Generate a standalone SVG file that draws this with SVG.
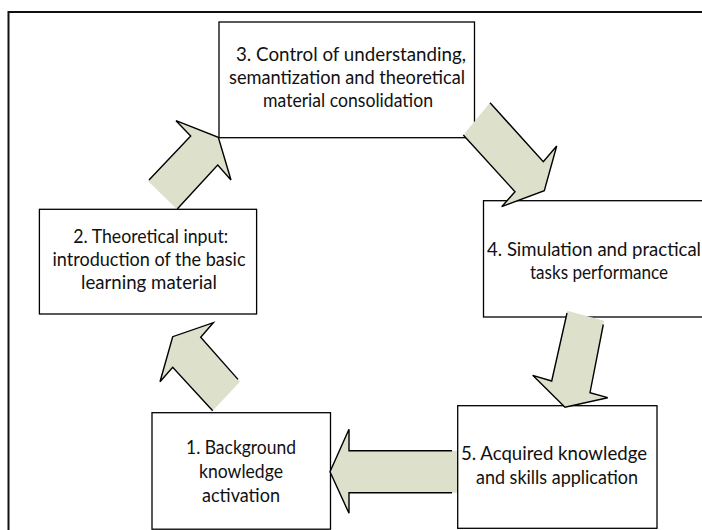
<svg xmlns="http://www.w3.org/2000/svg" width="702" height="530" viewBox="0 0 702 530">
  <style>
    .frame { stroke: #111; stroke-width: 2; fill: none; }
    .box { fill: #fff; stroke: #000; stroke-width: 1.3; }
    .lbl { font-family: Lato, "Open Sans", "Liberation Sans", sans-serif; font-size: 18.5px; fill: #111; text-anchor: middle; }
    .arrow-fill { fill: #dde0cb; stroke: none; }
    .arrow-edge { fill: none; stroke: #000; stroke-width: 1.4; stroke-linejoin: miter; }
  </style>
  <rect width="702" height="530" fill="#fff"/>

  <!-- outer frame (top and left edges) -->
  <path class="frame" d="M8.5,530 V12 H702"/>

  <!-- step boxes -->
  <g id="node-3">
    <rect class="box" x="219" y="22" width="255.5" height="115.7"/>
    <text class="lbl" x="351" y="61" textLength="230" lengthAdjust="spacingAndGlyphs">3. Control of understanding,</text>
    <text class="lbl" x="347" y="84" textLength="236" lengthAdjust="spacingAndGlyphs">semantization and theoretical</text>
    <text class="lbl" x="348" y="107" textLength="170" lengthAdjust="spacingAndGlyphs">material consolidation</text>
  </g>
  <g id="node-2">
    <rect class="box" x="39.4" y="209.3" width="217.2" height="104.7"/>
    <text class="lbl" x="150.7" y="242.5" textLength="155" lengthAdjust="spacingAndGlyphs">2. Theoretical input:</text>
    <text class="lbl" x="149" y="265.5" textLength="193" lengthAdjust="spacingAndGlyphs">introduction of the basic</text>
    <text class="lbl" x="149" y="288.5" textLength="136" lengthAdjust="spacingAndGlyphs">learning material</text>
  </g>
  <g id="node-4">
    <rect class="box" x="483.5" y="200.7" width="240" height="116.3"/>
    <text class="lbl" x="594" y="256" textLength="214" lengthAdjust="spacingAndGlyphs">4. Simulation and practical</text>
    <text class="lbl" x="599" y="279" textLength="138" lengthAdjust="spacingAndGlyphs">tasks performance</text>
  </g>
  <g id="node-1">
    <rect class="box" x="152" y="412.7" width="178.5" height="116.5"/>
    <text class="lbl" x="241" y="454" textLength="110" lengthAdjust="spacingAndGlyphs">1. Background</text>
    <text class="lbl" x="241" y="478" textLength="84" lengthAdjust="spacingAndGlyphs">knowledge</text>
    <text class="lbl" x="241" y="502" textLength="78" lengthAdjust="spacingAndGlyphs">activation</text>
  </g>
  <g id="node-5">
    <rect class="box" x="457.7" y="405.7" width="199.3" height="122.6"/>
    <text class="lbl" x="554" y="460" textLength="186" lengthAdjust="spacingAndGlyphs">5. Acquired knowledge</text>
    <text class="lbl" x="557" y="484" textLength="162" lengthAdjust="spacingAndGlyphs">and skills application</text>
  </g>

  <!-- block arrows between steps: fill first, then the outlined sides (tails left open) -->
  <g id="connectors">
    <g id="arrow-1-2">
      <polygon class="arrow-fill" points="240,381.7 200.7,337.3 213.3,322.7 172.7,336.7 160,381.7 172.7,367.3 212.7,410.7"/>
      <polyline class="arrow-edge" points="238,379.4 200.7,337.3 213.3,322.7 172.7,336.7 160,381.7 172.7,367.3 212.7,410.7"/>
    </g>
    <g id="arrow-2-3">
      <polygon class="arrow-fill" points="148,181 190.7,136 176,120.7 218.3,137.3 231,180 217.7,165 177,209.3"/>
      <polyline class="arrow-edge" points="149,180 190.7,136 176,120.7 218.3,137.3 231,180 217.7,165 177,209.3"/>
    </g>
    <g id="arrow-3-4">
      <polygon class="arrow-fill" points="490,102.7 543.3,161.7 556.7,146 544.3,190.7 501.7,206.7 515,191.7 463.3,135"/>
      <polyline class="arrow-edge" points="490,102.7 543.3,161.7 556.7,146 544.3,190.7 501.7,206.7 515,191.7 463.3,135"/>
    </g>
    <g id="arrow-4-5">
      <polygon class="arrow-fill" points="567.3,310.7 604,320.7 590,392.7 607.7,397.7 565,407.3 532.7,375.3 551.7,381"/>
      <polyline class="arrow-edge" points="567,313 551.7,381 532.7,375.3 565,407.3 607.7,397.7 590,392.7 603.3,324.5"/>
    </g>
    <g id="arrow-5-1">
      <polygon class="arrow-fill" points="457,450.7 349,450.7 349,429.3 330,471.7 349,513.3 349,492.7 457,492.7"/>
      <polyline class="arrow-edge" points="452,450.7 349,450.7 349,429.3 330,471.7 349,513.3 349,492.7 452,492.7"/>
    </g>
  </g>
</svg>
